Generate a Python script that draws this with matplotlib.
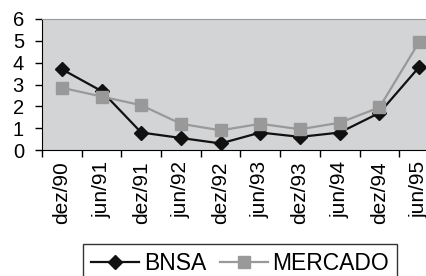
import matplotlib.pyplot as plt
import numpy as np

plt.rcParams['font.family'] = ['Liberation Sans', 'DejaVu Sans']

# dados
periodos = ["dez/90", "jun/91", "dez/91", "jun/92", "dez/92",
            "jun/93", "dez/93", "jun/94", "dez/94", "jun/95"]
bnsa = [3.7, 2.7, 0.8, 0.55, 0.3, 0.8, 0.6, 0.8, 1.7, 3.8]
mercado = [2.85, 2.45, 2.05, 1.2, 0.9, 1.2, 0.95, 1.25, 1.95, 4.95]

W, H = 427, 276
fig = plt.figure(figsize=(W / 100, H / 100), dpi=100)

# área do gráfico (passa da borda direita, como no original)
x0, x1, y0, y1 = 42, 439, 150, 19
ax = fig.add_axes([x0 / W, 1 - y0 / H, (x1 - x0) / W, (y0 - y1) / H])
ax.set_facecolor('#d3d4d6')

x = np.arange(len(periodos))
ax.plot(x, bnsa, color='#111111', marker='D', markersize=7, linewidth=1.6, label='BNSA')
ax.plot(x, mercado, color='#999999', marker='s', markersize=9, linewidth=1.6, label='MERCADO')

ax.set_xlim(-0.5, len(periodos) - 0.5)
ax.set_ylim(0, 6)
ax.set_yticks(range(0, 7))
ax.set_xticks(x)
ax.set_xticklabels(periodos, rotation=90, fontsize=15)
ax.tick_params(axis='y', labelsize=14.5, length=5, width=1, pad=8)

# marcas do eixo x entre as categorias
ax.set_xticks(np.arange(len(periodos) + 1) - 0.5, minor=True)
ax.tick_params(axis='x', which='major', length=0, pad=8)
ax.tick_params(axis='x', which='minor', length=5, width=1)

ax.spines['top'].set_color('#999999')
ax.spines['right'].set_visible(False)
ax.spines['left'].set_color('black')
ax.spines['bottom'].set_color('black')

leg = fig.legend(loc='upper left', bbox_to_anchor=(83 / W, 1 - 244 / H),
                 ncol=2, fontsize=16.5, frameon=True, fancybox=False,
                 edgecolor='black', handlelength=2.1, columnspacing=0.6,
                 handletextpad=0.2, borderpad=0.35, borderaxespad=0)
leg.get_frame().set_linewidth(1)

fig.savefig('out.png', dpi=100)
